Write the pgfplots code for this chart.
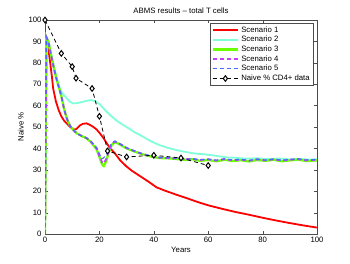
\documentclass[border=0pt]{standalone}
\usepackage{pgfplots}
\pgfplotsset{compat=1.18}
\usepackage{fontspec}
\setmainfont{Liberation Sans}
\definecolor{sOne}{rgb}{1,0,0}
\definecolor{sTwo}{rgb}{0.5,1,0.85}
\definecolor{sThree}{rgb}{0.42,1,0}
\definecolor{sFour}{rgb}{0.75,0.25,1}
\definecolor{sFive}{rgb}{0.28,0.42,1}
\begin{document}
\begin{tikzpicture}
\begin{axis}[
  scale only axis, width=272bp, height=214bp,
  xmin=0, xmax=100, ymin=0, ymax=100,
  xtick={0,20,...,100}, ytick={0,10,...,100},
  tick align=inside, major tick length=3bp,
  axis line style={black!70}, tick style={black!70},
  /pgf/number format/assume math mode=true,
  tick label style={font=\fontsize{7.8}{9}\selectfont},
  label style={font=\fontsize{7.8}{9}\selectfont},
  title style={font=\fontsize{7.8}{9}\selectfont, yshift=-3bp},
  title={ABMS results -- total T cells},
  xlabel={Years}, ylabel={Naive \%},
  xlabel style={yshift=3bp}, ylabel style={yshift=-2bp},
  legend style={font=\fontsize{7.8}{9}\selectfont, at={(0.985,0.985)}, anchor=north east,
    draw=black!70, inner sep=1bp, row sep=-1.4bp, cells={anchor=west}},
  legend image code/.code={\draw[mark repeat=2,mark phase=2,#1] plot coordinates {(0cm,0cm)(0.45cm,0cm)(0.9cm,0cm)};},
]
\coordinate (bl) at (rel axis cs:0,0);
\coordinate (tr) at (rel axis cs:1,1);
\addplot[sOne, line width=1.8bp] coordinates {
(0,0)(0.3,88)(1,87)(1.5,84)(2,79)(2.5,74)(3,68)(4,62)(5,58)(6,55)(7,53)(8,51.7)(9,50.3)(10.4,48.8)(11.5,49)(12.9,50.8)(14,51.5)(15.3,51.7)(16.5,51)(17.8,50)(19,48.8)(20.2,47)(21.5,44.8)(22.7,42.4)(24,40)(25.7,37.7)(27.6,34.5)(30,31.5)(32,29.5)(35,27)(38,24.5)(41,21.8)(44,20.3)(48,18.5)(52,16.8)(56,15)(60,13.4)(65,11.8)(70,10.3)(75,9)(80,7.6)(85,6.3)(90,5.1)(95,4)(100,3)
};
\addlegendentry{Scenario 1}
\addplot[sTwo, line width=1.8bp] coordinates {
(0,0)(0.8,91)(1.5,89)(2.5,83)(3.5,77)(4.5,72)(5.5,68)(6.5,65.5)(8,63.4)(9,62)(10.4,61)(12,61.2)(14,61.8)(15.5,62.3)(17,62.6)(18.5,62)(20,60.8)(22,58)(24,55.5)(26,53.3)(28,51.5)(30,50)(33,47.5)(36,45.5)(39,43.3)(42,41.6)(45,40.3)(48,39.3)(51,38.5)(54.5,37.7)(58,37.3)(61,36.9)(64,36.3)(67,35.8)(70,35.6)(74,35.2)(78,35.4)(82,35)(86,35.3)(90,34.9)(94,35.1)(97,34.8)(100,34.9)
};
\addlegendentry{Scenario 2}
\addplot[sThree, line width=2.3bp] coordinates {
(0,0)(0.5,92)(1.2,90)(2,85)(3,79)(4,73.5)(5,69)(6,64.5)(7,58.5)(8,54)(9.2,50.5)(10.5,48.5)(11.7,47)(13.5,45.8)(15.3,44.7)(17,42.8)(19,39.5)(20,36)(21,32.5)(21.6,31.8)(22.5,34)(23.5,38.5)(24.5,41.5)(25.7,43)(27,42.2)(30,40)(33,38.5)(36,37.2)(39,36.2)(42,35.5)(45,35.4)(48,35.1)(51,34.6)(54,35)(57,34.2)(60,34.6)(63,34)(66,34.7)(69,34.1)(72,34.5)(75,33.9)(78,34.6)(81,34.2)(84,34.7)(87,34)(90,34.4)(93,34.8)(96,34.1)(100,34.4)
};
\addlegendentry{Scenario 3}
\addplot[sFour, line width=1.8bp, dash pattern=on 4bp off 3bp] coordinates {
(0,0)(0.5,92)(1.2,90)(2,85)(3,79)(4,73.5)(5,69)(6,64.5)(7,58.5)(8,54)(9.2,50.5)(10.5,48.5)(11.7,47)(13.5,45.8)(15.3,44.8)(17,43)(19,40)(20,36.5)(21,33.5)(21.6,33)(22.5,35)(23.5,39)(24.5,42)(25.7,43.2)(27,42.5)(30,40.2)(33,38.7)(36,37.3)(39,36.3)(42,35.7)(45,35.5)(48,35.3)(51,34.8)(54,35.1)(57,34.6)(60,34.9)(63,34.3)(66,35)(69,34.4)(72,34.8)(75,34.2)(78,34.9)(81,34.4)(84,34.9)(87,34.3)(90,34.7)(93,35)(96,34.4)(100,34.7)
};
\addlegendentry{Scenario 4}
\addplot[sFive, line width=1.1bp, dash pattern=on 4bp off 3bp] coordinates {
(0,0)(0.5,92)(1.2,90)(2,85)(3,79)(4,73.5)(5,69)(6,64.5)(7,58.5)(8,54)(9.2,50.5)(10.5,48.5)(11.7,47)(13.5,45.8)(15.3,44.9)(17,43.2)(19,40.3)(20,37.5)(20.8,35.2)(21.5,35.5)(22.5,37)(23.5,40)(24.5,42.4)(25.7,43.4)(27,42.6)(30,40.3)(33,38.8)(36,37.4)(39,36.4)(42,35.8)(45,35.6)(48,35.4)(51,34.9)(54,35.2)(57,34.7)(60,35)(63,34.5)(66,35.1)(69,34.6)(72,34.9)(75,34.4)(78,35)(81,34.5)(84,35)(87,34.5)(90,34.8)(93,35.1)(96,34.6)(100,34.8)
};
\addlegendentry{Scenario 5}
\addplot[black, line width=0.8bp, dash pattern=on 4bp off 3bp, mark=diamond*, mark size=2.8bp,
  mark options={solid, fill=white, line width=1bp}] coordinates {
(0,100)(6,84.4)(10,78.2)(11.4,72.8)(17.3,68)(20,55)(23,38.8)(30,36)(40,36.8)(50,35.5)(60,32)
};
\addlegendentry{Naive \% CD4+ data}
\end{axis}
\pgfresetboundingbox
\path ([shift={(-45bp,-30bp)}]bl) rectangle ([shift={(33bp,20bp)}]tr);
\end{tikzpicture}
\end{document}
